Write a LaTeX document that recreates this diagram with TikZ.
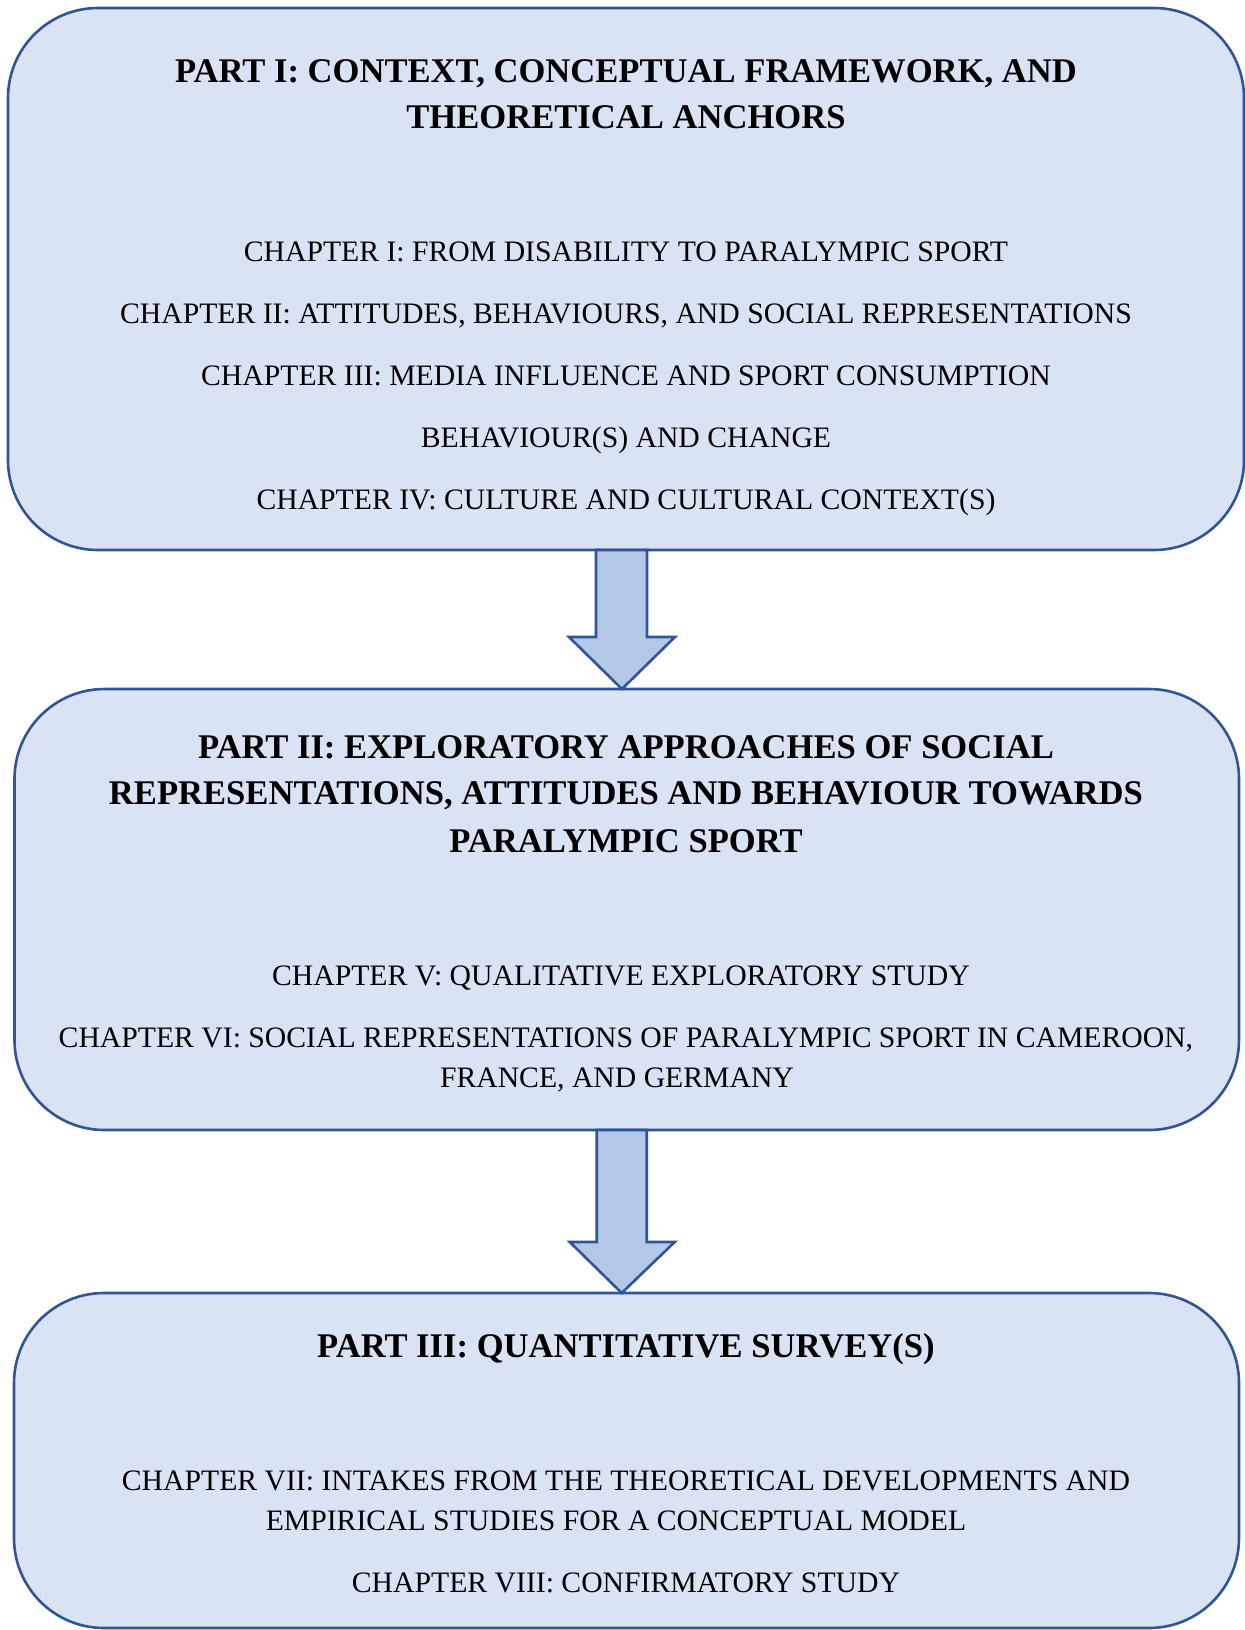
\documentclass[tikz,border=0pt]{standalone}
\usepackage{fontspec}
\setmainfont{Liberation Serif}
\definecolor{boxfill}{HTML}{DAE3F3}
\definecolor{boxline}{HTML}{2F5597}
\definecolor{arrowfill}{HTML}{B4C7E7}
\begin{document}
\begin{tikzpicture}[x=0.5pt,y=-0.5pt]
\tikzstyle{part}=[draw=boxline,fill=boxfill,line width=1.3pt,rounded corners=45pt,inner sep=0pt,outer sep=0pt]
\tikzstyle{head}=[anchor=base,inner sep=0pt,font=\fontsize{17.3}{20}\selectfont\bfseries]
\tikzstyle{chap}=[anchor=base,inner sep=0pt,font=\fontsize{14.85}{17}\selectfont]
\tikzstyle{blockarrow}=[draw=boxline,fill=arrowfill,line width=1.3pt,line join=miter]
\useasboundingbox (0,0) rectangle (1245,1630);
\node [part,minimum width=618pt,minimum height=271pt] (part1) at (626,279) {};
\node [part,minimum width=612.25pt,minimum height=220.5pt] (part2) at (626.75,909.5) {};
\node [part,minimum width=612.5pt,minimum height=167.5pt] (part3) at (626.5,1460.5) {};
\node [head] (h1a) at (626,82) {PART I: CONTEXT, CONCEPTUAL FRAMEWORK, AND};
\node [head] (h1b) at (626,128) {THEORETICAL ANCHORS};
\node [chap] (c1) at (626,261.5) {CHAPTER I: FROM DISABILITY TO PARALYMPIC SPORT};
\node [chap] (c2) at (626,323) {CHAPTER II: ATTITUDES, BEHAVIOURS, AND SOCIAL REPRESENTATIONS};
\node [chap] (c3a) at (626,385) {CHAPTER III: MEDIA INFLUENCE AND SPORT CONSUMPTION};
\node [chap] (c3b) at (626,447.5) {BEHAVIOUR(S) AND CHANGE};
\node [chap] (c4) at (626,509) {CHAPTER IV: CULTURE AND CULTURAL CONTEXT(S)};
\node [head] (h2a) at (626,758) {PART II: EXPLORATORY APPROACHES OF SOCIAL};
\node [head] (h2b) at (626,804) {REPRESENTATIONS, ATTITUDES AND BEHAVIOUR TOWARDS};
\node [head] (h2c) at (626,852) {PARALYMPIC SPORT};
\node [chap] (c5) at (621,985) {CHAPTER V: QUALITATIVE EXPLORATORY STUDY};
\node [chap] (c6a) at (626,1047) {CHAPTER VI: SOCIAL REPRESENTATIONS OF PARALYMPIC SPORT IN CAMEROON,};
\node [chap] (c6b) at (617,1087) {FRANCE, AND GERMANY};
\node [head] (h3) at (626,1357) {PART III: QUANTITATIVE SURVEY(S)};
\node [chap] (c7a) at (626,1490) {CHAPTER VII: INTAKES FROM THE THEORETICAL DEVELOPMENTS AND};
\node [chap] (c7b) at (616,1530) {EMPIRICAL STUDIES FOR A CONCEPTUAL MODEL};
\node [chap] (c8) at (626,1592) {CHAPTER VIII: CONFIRMATORY STUDY};
\draw [blockarrow] (part1.south) ++(-30,0) -- ++(0,87) -- ++(-27,0) -- ([xshift=-2.4pt]part2.north) -- ++(53,-52) -- ++(-28,0) -- ++(0,-87) -- cycle;
\draw [blockarrow] (part2.south) ++(-30,0) -- ++(0,112) -- ++(-27,0) -- ([xshift=-2.4pt]part3.north) -- ++(53,-51) -- ++(-28,0) -- ++(0,-112) -- cycle;
\end{tikzpicture}
\end{document}
